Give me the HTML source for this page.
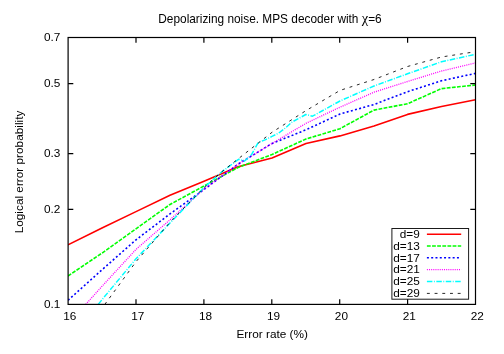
<!DOCTYPE html>
<html><head><meta charset="utf-8"><title>plot</title>
<style>
html,body{margin:0;padding:0;background:#fff;}
body{width:504px;height:354px;overflow:hidden;}
svg{display:block;will-change:transform;}
.chi{font-family:"Liberation Serif",serif;font-size:14.5px;}
text{font-family:"Liberation Sans",sans-serif;font-size:11.8px;fill:#000;}
</style></head><body>
<svg width="504" height="354" viewBox="0 0 504 354">
<rect x="0" y="0" width="504" height="354" fill="#ffffff"/>
<defs><clipPath id="c"><rect x="68.10" y="37.50" width="407.40" height="266.90"/></clipPath></defs>
<g fill="none" stroke-linejoin="round" stroke-linecap="butt" clip-path="url(#c)">
<polyline points="68.00,244.90 102.00,228.00 136.00,211.60 170.00,195.20 204.00,181.30 238.00,166.70 272.00,158.00 306.00,143.50 340.00,135.90 374.00,126.10 407.50,114.40 441.50,106.50 475.50,99.80" stroke="#ff0000" stroke-width="1.6"/>
<polyline points="68.00,276.00 102.00,253.10 136.00,228.80 170.00,204.50 204.00,186.00 238.00,167.50 272.00,154.50 306.00,139.00 340.00,128.70 374.00,110.10 407.50,103.75 441.50,88.60 475.50,85.00" stroke="#00ff00" stroke-width="1.6" stroke-dasharray="3.8 1.34"/>
<polyline points="68.00,300.30 102.00,269.80 136.00,239.80 170.00,213.90 204.00,189.50 238.00,164.20 272.00,143.50 306.00,129.80 340.00,114.00 374.00,104.50 407.50,91.70 441.50,80.75 475.50,73.40" stroke="#0000ff" stroke-width="1.6" stroke-dasharray="2.0 2.29"/>
<polyline points="85.70,304.40 102.00,286.30 136.00,249.40 170.00,219.80 204.00,189.00 238.00,164.20 272.00,143.50 306.00,123.30 340.00,107.20 374.00,92.20 407.50,81.50 441.50,71.00 475.50,63.00" stroke="#ff00ff" stroke-width="1.35" stroke-dasharray="1.0 1.14"/>
<polyline points="98.20,304.40 102.00,299.70 136.00,258.80 170.00,223.00 204.00,187.60 221.00,172.50 238.50,159.30 244.60,161.00 251.40,154.80 258.20,142.60 265.00,139.90 272.00,136.40 278.60,133.20 285.40,128.00 292.20,121.90 299.00,118.30 305.80,114.50 312.50,116.20 340.00,101.00 374.00,86.00 407.50,73.80 441.50,61.80 475.50,54.25" stroke="#00ffff" stroke-width="1.5" stroke-dasharray="5.5 1.5 0.9 1.53"/>
<polyline points="104.80,304.40 136.00,261.70 170.00,222.30 204.00,187.60 221.00,172.40 238.00,159.00 272.00,132.30 306.00,110.60 340.00,90.40 374.00,79.50 407.50,66.50 441.50,57.00 475.50,51.70" stroke="#000000" stroke-width="0.85" stroke-dasharray="2.9 4.8"/>
</g>
<rect x="391.90" y="228.50" width="76.70" height="70.70" fill="#fff" stroke="#1a1a1a" stroke-width="1.0"/>
<g fill="none" stroke-linecap="butt">
<line x1="426.9" y1="234.20" x2="461.2" y2="234.20" stroke="#ff0000" stroke-width="1.6"/>
<line x1="426.9" y1="246.05" x2="461.2" y2="246.05" stroke="#00ff00" stroke-width="1.6" stroke-dasharray="3.8 1.34"/>
<line x1="426.9" y1="257.80" x2="461.2" y2="257.80" stroke="#0000ff" stroke-width="1.6" stroke-dasharray="2.0 2.29"/>
<line x1="426.9" y1="269.60" x2="461.2" y2="269.60" stroke="#ff00ff" stroke-width="1.35" stroke-dasharray="1.0 1.14"/>
<line x1="426.9" y1="281.50" x2="461.2" y2="281.50" stroke="#00ffff" stroke-width="1.5" stroke-dasharray="5.5 1.5 0.9 1.53"/>
<line x1="426.9" y1="293.40" x2="461.2" y2="293.40" stroke="#000000" stroke-width="0.85" stroke-dasharray="2.9 4.8"/>
</g>
<text x="419.8" y="238.00" text-anchor="end">d=9</text>
<text x="419.8" y="249.85" text-anchor="end">d=13</text>
<text x="419.8" y="261.60" text-anchor="end">d=17</text>
<text x="419.8" y="273.40" text-anchor="end">d=21</text>
<text x="419.8" y="285.30" text-anchor="end">d=25</text>
<text x="419.8" y="297.20" text-anchor="end">d=29</text>
<g fill="none" stroke="#000" stroke-width="1.2">
<rect x="68.10" y="37.50" width="407.40" height="266.90"/>
<path d="M136.00 304.40V299.20M136.00 37.50V42.70"/>
<path d="M203.90 304.40V299.20M203.90 37.50V42.70"/>
<path d="M271.80 304.40V299.20M271.80 37.50V42.70"/>
<path d="M339.70 304.40V299.20M339.70 37.50V42.70"/>
<path d="M407.60 304.40V299.20M407.60 37.50V42.70"/>
<path d="M68.10 209.33H73.30M475.50 209.33H470.30"/>
<path d="M68.10 153.71H73.30M475.50 153.71H470.30"/>
<path d="M68.10 83.65H73.30M475.50 83.65H470.30"/>
</g>
<text x="69.80" y="320.4" text-anchor="middle">16</text>
<text x="137.70" y="320.4" text-anchor="middle">17</text>
<text x="205.60" y="320.4" text-anchor="middle">18</text>
<text x="273.50" y="320.4" text-anchor="middle">19</text>
<text x="341.40" y="320.4" text-anchor="middle">20</text>
<text x="409.30" y="320.4" text-anchor="middle">21</text>
<text x="477.20" y="320.4" text-anchor="middle">22</text>
<text x="60.4" y="308.10" text-anchor="end">0.1</text>
<text x="60.4" y="213.03" text-anchor="end">0.2</text>
<text x="60.4" y="157.41" text-anchor="end">0.3</text>
<text x="60.4" y="87.35" text-anchor="end">0.5</text>
<text x="60.4" y="41.20" text-anchor="end">0.7</text>
<text x="270.0" y="23.4" text-anchor="middle" style="font-size:11.85px">Depolarizing noise. MPS decoder with <tspan class="chi">χ</tspan>=6</text>
<text x="272.2" y="337.8" text-anchor="middle">Error rate (%)</text>
<text transform="translate(22.7,172.0) rotate(-90)" text-anchor="middle">Logical error probability</text>
</svg>
</body></html>
